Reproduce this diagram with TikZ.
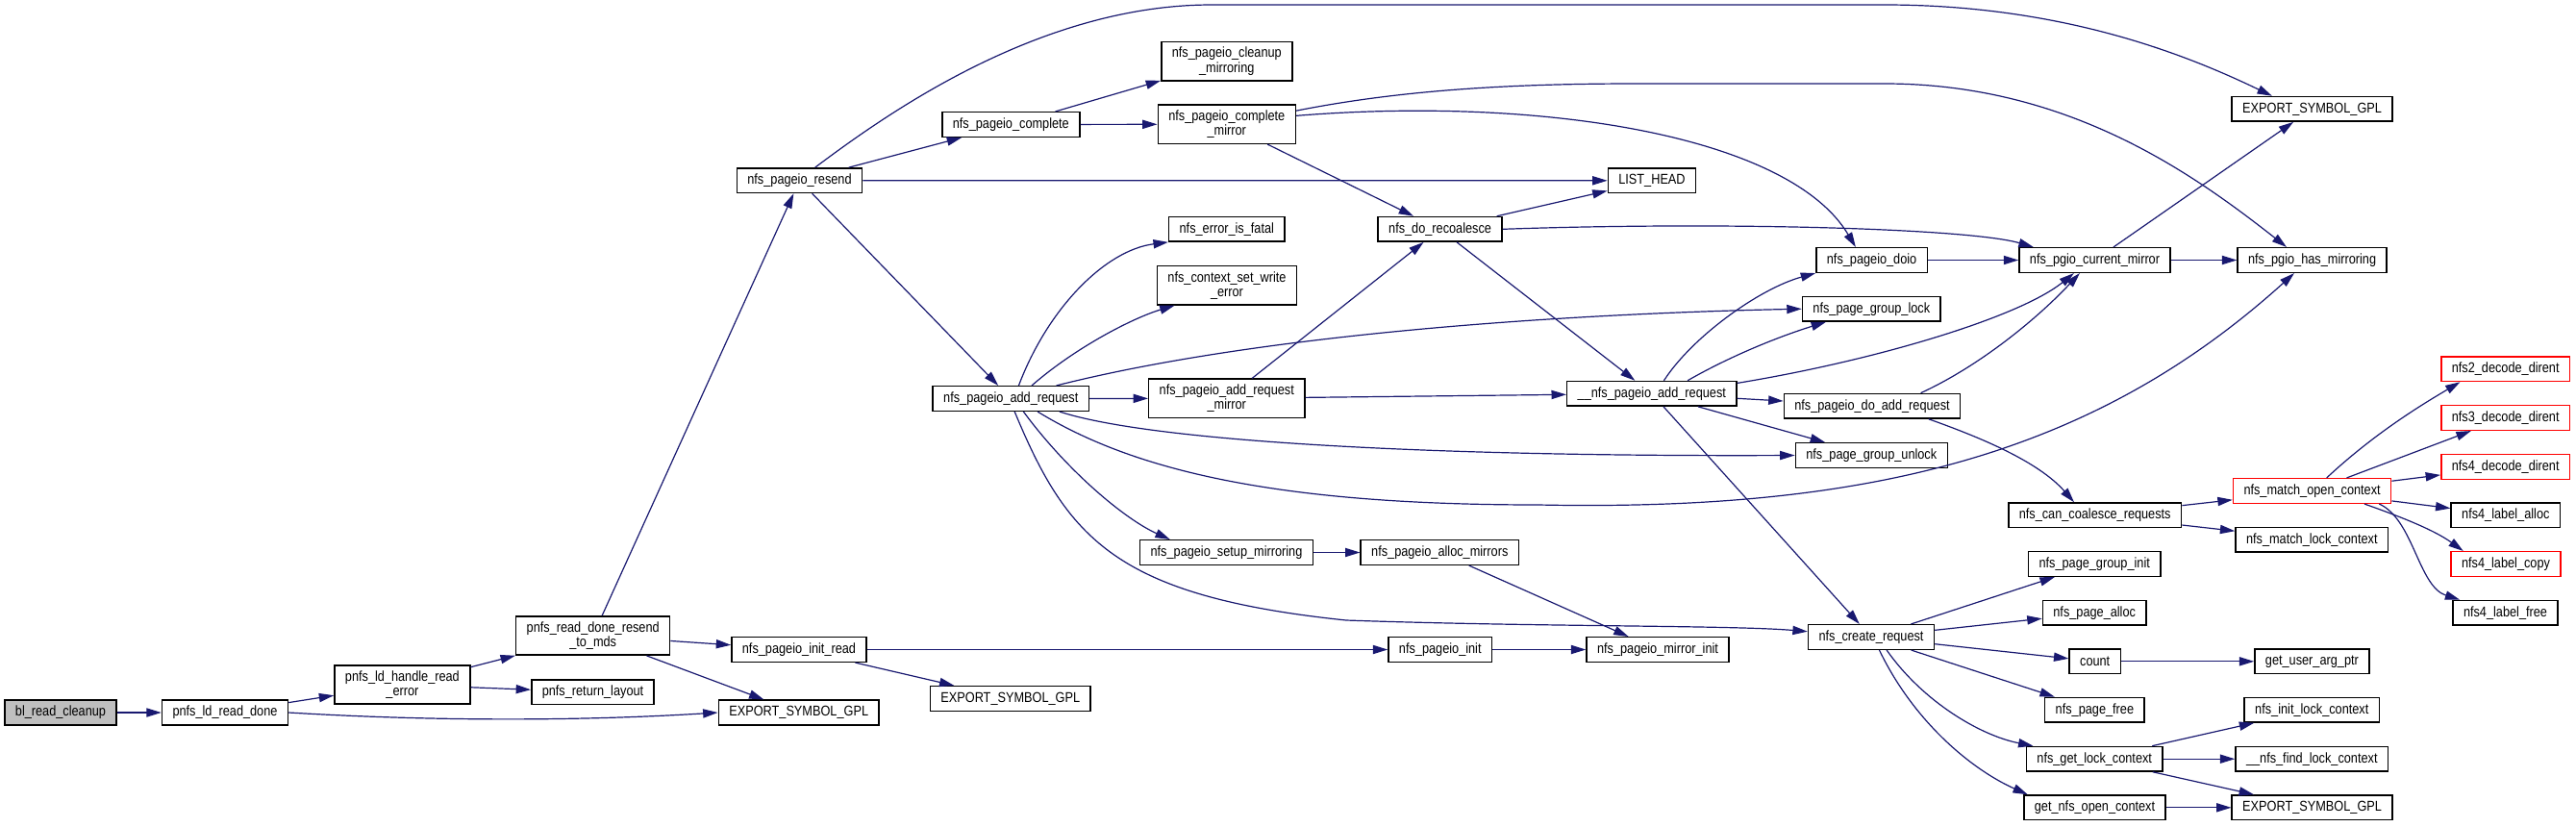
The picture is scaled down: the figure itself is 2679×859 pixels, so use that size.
\documentclass[tikz,border=0pt]{standalone}
\usepackage{fontspec}
\setmainfont{Liberation Sans}[FakeStretch=0.86]
\usetikzlibrary{arrows.meta}
\definecolor{edgeblue}{RGB}{25,25,112}
\tikzset{every picture/.style={line width=0.6pt}}
\tikzset{
fn/.style={draw=black, fill=white, line width=0.75pt, inner xsep=5.5pt, inner ysep=2.8pt, minimum height=12.8pt, align=center, font=\fontsize{7.4}{7.7}\selectfont},
fnred/.style={fn, draw=red},
fnroot/.style={fn, fill={rgb,255:red,191;green,191;blue,191}},
call/.style={draw=edgeblue, line width=0.6pt, -{Triangle[length=7.7pt,width=4.6pt]}}}

\begin{document}
\begin{tikzpicture}[x=0.5pt,y=0.5pt,yscale=-1,xscale=1]
\useasboundingbox (0,0) rectangle (2679,859);

% Text Node
\node[fnroot] (blclean) at (63,741) {bl\_read\_cleanup};
\node[fn] (ldread) at (234,741) {pnfs\_ld\_read\_done};
\node[fn] (ldhandle) at (418.4,712) {pnfs\_ld\_handle\_read\\\_error};
\node[fn] (resendmds) at (616.7,661) {pnfs\_read\_done\_resend\\\_to\_mds};
\node[fn] (retlayout) at (616.5,719.7) {pnfs\_return\_layout};
\node[fn] (initread) at (831,675.5) {nfs\_pageio\_init\_read};
\node[fn] (expa) at (830.7,741) {EXPORT\_SYMBOL\_GPL};
\node[fn] (expb) at (1050.8,726.5) {EXPORT\_SYMBOL\_GPL};
\node[fn] (pinit) at (1497.8,675.5) {nfs\_pageio\_init};
\node[fn] (mirinit) at (1724,675.5) {nfs\_pageio\_mirror\_init};
\node[fn] (setupmir) at (1275.5,574.5) {nfs\_pageio\_setup\_mirroring};
\node[fn] (allocmir) at (1497.3,574.5) {nfs\_pageio\_alloc\_mirrors};
% Text Node
\node[fn] (resend) at (831.5,187.7) {nfs\_pageio\_resend};
\node[fn] (pcomplete) at (1051.3,129.5) {nfs\_pageio\_complete};
\node[fn] (cleanupmir) at (1275.8,63.7) {nfs\_pageio\_cleanup\\\_mirroring};
\node[fn] (cmirror) at (1275.8,129.2) {nfs\_pageio\_complete\\\_mirror};
\node[fn] (listhead) at (1718,187.8) {LIST\_HEAD};
\node[fn] (errfatal) at (1275.8,238.3) {nfs\_error\_is\_fatal};
\node[fn] (ctxerr) at (1276,296.8) {nfs\_context\_set\_write\\\_error};
\node[fn] (recoal) at (1497.6,238.3) {nfs\_do\_recoalesce};
\node[fn] (addreq) at (1051.3,414.5) {nfs\_pageio\_add\_request};
\node[fn] (armirror) at (1275.8,414.3) {nfs\_pageio\_add\_request\\\_mirror};
\node[fn] (pagadd) at (1717.8,409.3) {\_\_nfs\_pageio\_add\_request};
% Text Node
\node[fn] (expc) at (2404.6,113.3) {EXPORT\_SYMBOL\_GPL};
\node[fn] (doio) at (1946.6,270.5) {nfs\_pageio\_doio};
\node[fn] (curmir) at (2178.5,270.5) {nfs\_pgio\_current\_mirror};
\node[fn] (hasmir) at (2404.6,270.5) {nfs\_pgio\_has\_mirroring};
\node[fn] (pglock) at (1946.3,321.2) {nfs\_page\_group\_lock};
\node[fn] (doadd) at (1947,422.2) {nfs\_pageio\_do\_add\_request};
\node[fn] (pgunlock) at (1946.3,473.5) {nfs\_page\_group\_unlock};
\node[fnred] (dec2) at (2605.7,383.7) {nfs2\_decode\_dirent};
\node[fnred] (dec3) at (2605.7,434.5) {nfs3\_decode\_dirent};
\node[fnred] (dec4) at (2605.7,485.5) {nfs4\_decode\_dirent};
\node[fnred] (mopen) at (2404.6,510.5) {nfs\_match\_open\_context};
\node[fn] (cancoal) at (2178.7,535.8) {nfs\_can\_coalesce\_requests};
\node[fn] (lalloc) at (2605.8,535.8) {nfs4\_label\_alloc};
\node[fn] (mlock) at (2404.3,561.2) {nfs\_match\_lock\_context};
\node[fnred] (lcopy) at (2606,586.5) {nfs4\_label\_copy};
\node[fn] (lfree) at (2605.5,637.3) {nfs4\_label\_free};
% Text Node
\node[fn] (creq) at (1946,662.5) {nfs\_create\_request};
\node[fn] (pginit) at (2178.2,586.5) {nfs\_page\_group\_init};
\node[fn] (palloc) at (2178.2,637.3) {nfs\_page\_alloc};
\node[fn] (cnt) at (2178.7,687.8) {count};
\node[fn] (getuser) at (2404.4,687.8) {get\_user\_arg\_ptr};
\node[fn] (pfree) at (2178.4,738.2) {nfs\_page\_free};
\node[fn] (initlock) at (2404.3,738.2) {nfs\_init\_lock\_context};
\node[fn] (getlock) at (2178.2,789.2) {nfs\_get\_lock\_context};
\node[fn] (findlock) at (2404.3,789.2) {\_\_nfs\_find\_lock\_context};
\node[fn] (getopen) at (2178.5,839.8) {get\_nfs\_open\_context};
\node[fn] (expd) at (2404.6,839.8) {EXPORT\_SYMBOL\_GPL};

%Straight Lines
\draw[call] (blclean) -- (ldread);
\draw[call] (ldread) -- (ldhandle);
\draw[call] (ldread.east) .. controls (450,750) and (600,750) .. (expa.west);
\draw[call] (ldhandle) -- (resendmds);
\draw[call] (ldhandle) -- (retlayout);
\draw[call] (resendmds) -- (resend);
\draw[call] (resendmds) -- (initread);
\draw[call] (resendmds) -- (expa);
\draw[call] (initread) -- (pinit);
\draw[call] (initread) -- (expb);
\draw[call] (pinit) -- (mirinit);
\draw[call] (setupmir) -- (allocmir);
\draw[call] (allocmir) -- (mirinit);

%Straight Lines
\draw[call] (resend.40) .. controls (920,120) and (1080,5) .. (1260,5) -- (1960,5) .. controls (2150,5) and (2280,60) .. (expc.162);
\draw[call] (resend) -- (pcomplete);
\draw[call] (resend) -- (listhead);
\draw[call] (resend) -- (addreq);
\draw[call] (pcomplete) -- (cleanupmir);
\draw[call] (pcomplete) -- (cmirror);
\draw[call] (cmirror.11) .. controls (1450,95) and (1560,87) .. (1700,87) -- (1960,87) .. controls (2150,87) and (2280,180) .. (hasmir.153);
\draw[call] (cmirror.7) .. controls (1600,100) and (1860,140) .. (doio.141);
\draw[call] (cmirror) -- (recoal);
\draw[call] (recoal) -- (listhead);
\draw[call] (recoal.east) .. controls (1800,230) and (2050,238) .. (curmir.168);
\draw[call] (recoal) -- (pagadd);

%Straight Lines
\draw[call] (addreq.59) .. controls (1090,320) and (1150,260) .. (errfatal.south west);
\draw[call] (addreq.32) .. controls (1120,360) and (1180,330) .. (ctxerr.201);
\draw[call] (addreq) -- (armirror);
\draw[call] (addreq.16) .. controls (1300,350) and (1600,327) .. (pglock.west);
\draw[call] (addreq.-15) .. controls (1200,460) and (1500,475) .. (pgunlock.west);
\draw[call] (addreq.-26) .. controls (1180,490) and (1330,525) .. (1600,525) .. controls (1950,532) and (2180,470) .. (hasmir.216);
\draw[call] (addreq.-46) .. controls (1110,490) and (1170,540) .. (setupmir.167);
\draw[call] (addreq.-74) .. controls (1110,560) and (1160,620) .. (1400,645) .. controls (1600,652) and (1800,650) .. (creq.175);
\draw[call] (armirror) -- (recoal);
\draw[call] (armirror) -- (pagadd);

%Straight Lines
\draw[call] (pagadd.47) .. controls (1760,350) and (1830,300) .. (doio.south west);
\draw[call] (pagadd.20) .. controls (1800,370) and (1850,350) .. (pglock.196);
\draw[call] (pagadd.7) .. controls (1950,375) and (2100,330) .. (curmir.212);
\draw[call] (pagadd) -- (doadd);
\draw[call] (pagadd) -- (pgunlock);
\draw[call] (pagadd) -- (creq);
\draw[call] (doio) -- (curmir);
\draw[call] (curmir) -- (hasmir);
\draw[call] (curmir) -- (expc);
\draw[call] (doadd.15) .. controls (2060,380) and (2120,330) .. (curmir.221);
\draw[call] (doadd.-13) .. controls (2060,455) and (2120,480) .. (cancoal.148);
\draw[call] (cancoal) -- (mopen);
\draw[call] (cancoal) -- (mlock);

%Straight Lines
\draw[call] (mopen.42) .. controls (2470,450) and (2520,420) .. (dec2.196);
\draw[call] (mopen) -- (dec3);
\draw[call] (mopen) -- (dec4);
\draw[call] (mopen) -- (lalloc);
\draw[call] (mopen.-14) .. controls (2490,535) and (2530,550) .. (lcopy.163);
\draw[call] (mopen.-11) .. controls (2510,540) and (2515,610) .. (lfree.164);

%Straight Lines
\draw[call] (creq) -- (pginit);
\draw[call] (creq) -- (palloc);
\draw[call] (creq) -- (cnt);
\draw[call] (creq) -- (pfree);
\draw[call] (creq.-40) .. controls (2000,730) and (2060,765) .. (getlock.168);
\draw[call] (creq.-58) .. controls (1990,750) and (2050,800) .. (getopen.169);
\draw[call] (cnt) -- (getuser);
\draw[call] (getlock) -- (initlock);
\draw[call] (getlock) -- (findlock);
\draw[call] (getlock) -- (expd);
\draw[call] (getopen) -- (expd);

\end{tikzpicture}
\end{document}
